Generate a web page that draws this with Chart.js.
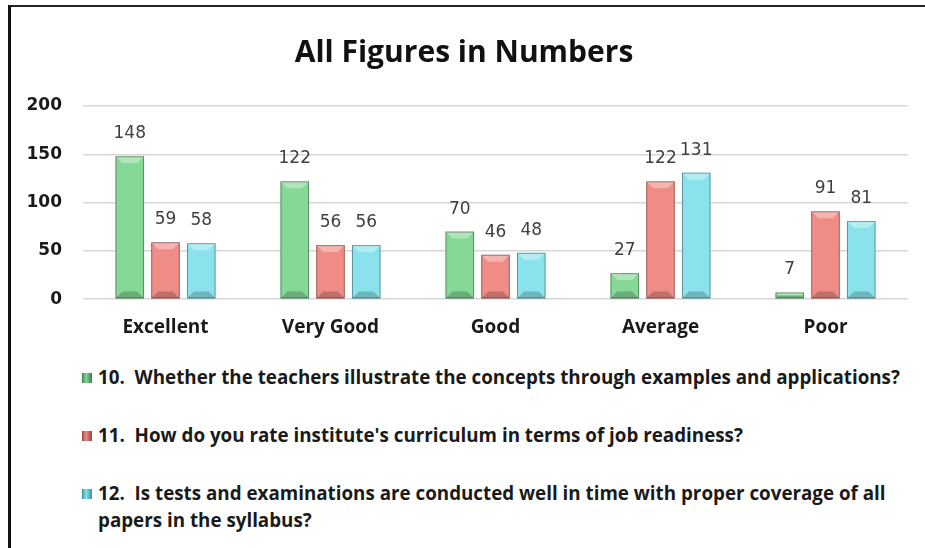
<!DOCTYPE html>
<html>
<head>
<meta charset="utf-8">
<script src="https://cdn.jsdelivr.net/npm/chart.js@4.4.1/dist/chart.umd.min.js"></script>
<style>
  body { margin: 0; background: #fff; width: 925px; height: 548px; overflow: hidden; position: relative; }
  #frame { position: absolute; left: 8px; top: 5px; width: 930px; height: 560px; border-left: 3px solid #111; border-top: 2px solid #222; }
  #wrap { position: absolute; left: 0; top: 0; width: 925px; height: 348px; }
  #legend { position: absolute; left: 82px; top: 364px; width: 832px; font-family: "Open Sans", sans-serif; font-weight: 700; font-size: 18.8px; color: #1a1a1a; }
  .item { display: flex; align-items: flex-start; margin-bottom: 31px; line-height: 27px; }
  .box { width: 10px; height: 10px; margin-top: 9px; margin-right: 6px; flex: none; }
  .txt { white-space: pre-wrap; }
</style>
</head>
<body>
<div id="frame"></div>
<div id="wrap"><canvas id="grafica"></canvas></div>
<div id="legend"></div>
<script>
const categories = ['Excellent', 'Very Good', 'Good', 'Average', 'Poor'];
const q10 = [148, 122, 70, 27, 7];
const q11 = [59, 56, 46, 122, 91];
const q12 = [58, 56, 48, 131, 81];
const yTicks = [0, 50, 100, 150, 200];

const seriesNames = [
    "10.  Whether the teachers illustrate the concepts through examples and applications?",
    "11.  How do you rate institute's curriculum in terms of job readiness?",
    "12.  Is tests and examinations are conducted well in time with proper coverage of all papers in the syllabus?"
];
const light = ['#86d896', '#f08c86', '#8ae3ec'];
const dark = ['#367f4a', '#98423c', '#33929b'];

function barFill(i) {
    return function (ctx) {
        const el = ctx.element;
        if (!el || el.x === undefined) return light[i];
        const c = ctx.chart.ctx;
        const g = c.createLinearGradient(el.x - el.width / 2, 0, el.x + el.width / 2, 0);
        g.addColorStop(0, dark[i]);
        g.addColorStop(0.15, light[i]);
        g.addColorStop(0.68, light[i]);
        g.addColorStop(0.86, dark[i]);
        g.addColorStop(1, '#1e1e1e');
        return g;
    };
}

const dataset1 = { label: seriesNames[0], data: q10, backgroundColor: barFill(0) };
const dataset2 = { label: seriesNames[1], data: q11, backgroundColor: barFill(1) };
const dataset3 = { label: seriesNames[2], data: q12, backgroundColor: barFill(2) };

// bevel highlight + value labels
const bevel = {
    id: 'bevel',
    afterDatasetsDraw(chart) {
        const c = chart.ctx;
        chart.data.datasets.forEach((ds, i) => {
            chart.getDatasetMeta(i).data.forEach((bar, j) => {
                const l = bar.x - bar.width / 2, r = bar.x + bar.width / 2;
                const t = bar.y, b = bar.base;
                const h = b - t;
                const s = Math.min(7, bar.width / 4, h / 2);
                c.save();
                c.fillStyle = 'rgba(255,255,255,0.35)';
                c.beginPath();
                c.moveTo(l, t); c.lineTo(r, t); c.lineTo(r - s, t + s); c.lineTo(l + s, t + s); c.closePath();
                c.fill();
                c.fillStyle = 'rgba(0,0,0,0.2)';
                c.beginPath();
                c.moveTo(l, b); c.lineTo(r, b); c.lineTo(r - s, b - s); c.lineTo(l + s, b - s); c.closePath();
                c.fill();
                c.strokeStyle = 'rgba(0,0,0,0.35)';
                c.lineWidth = 1;
                c.strokeRect(l + 0.5, t + 0.5, bar.width - 1, h - 1);
                c.restore();

                c.save();
                c.font = '17px "DejaVu Sans", sans-serif';
                c.fillStyle = '#404040';
                c.textAlign = 'center';
                c.textBaseline = 'bottom';
                c.fillText(ds.data[j], bar.x, t - 14);
                c.restore();
            });
        });
    }
};

const graph = document.querySelector('#grafica');

const config = {
    type: 'bar',
    data: { labels: categories, datasets: [dataset1, dataset2, dataset3] },
    options: {
        responsive: true,
        maintainAspectRatio: false,
        animation: false,
        categoryPercentage: 0.65,
        barPercentage: 0.8,
        layout: { padding: { left: 20, right: 17, top: 0, bottom: 0 } },
        plugins: {
            legend: { display: false },
            tooltip: { enabled: false },
            title: {
                display: true,
                text: 'All Figures in Numbers',
                color: '#111',
                font: { family: '"Open Sans", sans-serif', size: 30, weight: 'bold' },
                padding: { top: 35, bottom: 35 }
            }
        },
        scales: {
            x: {
                grid: { display: false },
                border: { display: false },
                ticks: { color: '#1a1a1a', padding: 9, font: { family: '"Open Sans", sans-serif', size: 19, weight: 'bold' } }
            },
            y: {
                min: 0,
                max: 200,
                afterBuildTicks(scale) { scale.ticks = yTicks.map(v => ({ value: v })); },
                afterFit(scale) { scale.width = 63; },
                grid: { color: '#d6d6d6', lineWidth: 1.5, drawTicks: false },
                border: { display: false },
                ticks: { color: '#1a1a1a', padding: 21, font: { family: '"DejaVu Sans", sans-serif', size: 17, weight: 'bold' } }
            }
        }
    },
    plugins: [bevel]
};

const chart = new Chart(graph, config);

const legend = document.querySelector('#legend');
chart.data.datasets.forEach((ds, i) => {
    const item = document.createElement('div');
    item.className = 'item';
    const box = document.createElement('span');
    box.className = 'box';
    box.style.background = 'linear-gradient(90deg,' + dark[i] + ',' + light[i] + ' 40%,' + dark[i] + ')';
    const txt = document.createElement('span');
    txt.className = 'txt';
    txt.textContent = ds.label;
    item.appendChild(box);
    item.appendChild(txt);
    legend.appendChild(item);
});
</script>
</body>
</html>
